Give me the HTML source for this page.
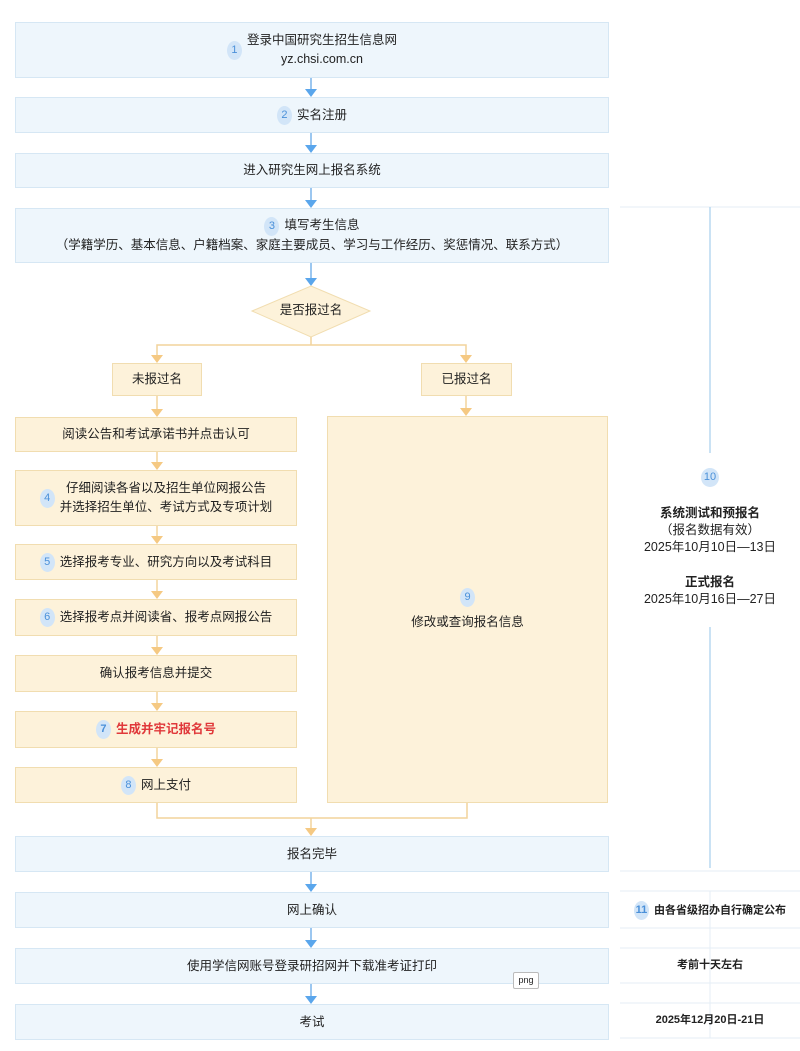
<!DOCTYPE html>
<html><head><meta charset="utf-8"><style>
body{margin:0;width:800px;height:1051px;background:#fff;position:relative;overflow:hidden;font-family:"Liberation Sans","Noto Sans CJK SC",sans-serif;color:#222;}
.b{position:absolute;box-sizing:border-box;display:flex;align-items:center;justify-content:center;flex-direction:column;text-align:center;font-size:12.5px;line-height:19px;}
.bl{background:#eef6fc;border:1px solid #d6e7f4;}
.or{background:#fdf2da;border:1px solid #f1ddb0;}
.n{display:inline-block;width:15px;height:19px;border-radius:50%;background:#d2e5f8;color:#4a90d9;font-size:11px;line-height:19px;text-align:center;margin-right:5px;vertical-align:middle;}
.t{position:absolute;text-align:center;font-size:12.5px;line-height:17px;}
</style></head><body>
<svg width="800" height="1051" style="position:absolute;left:0;top:0">
<g stroke="#7ab4ea" stroke-width="1.5">
<line x1="311" y1="78" x2="311" y2="92"/><line x1="311" y1="133" x2="311" y2="148"/><line x1="311" y1="188" x2="311" y2="203"/><line x1="311" y1="263" x2="311" y2="280"/>
<line x1="311" y1="872" x2="311" y2="887"/><line x1="311" y1="928" x2="311" y2="943"/><line x1="311" y1="984" x2="311" y2="999"/>
</g>
<g fill="#5aa6ec">
<path d="M305,89 L317,89 L311,97z"/><path d="M305,145 L317,145 L311,153z"/><path d="M305,200 L317,200 L311,208z"/><path d="M305,278 L317,278 L311,286z"/>
<path d="M305,884 L317,884 L311,892z"/><path d="M305,940 L317,940 L311,948z"/><path d="M305,996 L317,996 L311,1004z"/>
</g>
<polygon points="311,286 370,311 311,337 252,311" fill="#fdf2da" stroke="#f1ddb0"/>
<g stroke="#f2d49c" stroke-width="1.5" fill="none">
<path d="M311,337 V345 M157,356 V345 H466 V356"/>
<line x1="157" y1="396" x2="157" y2="410"/><line x1="466" y1="396" x2="466" y2="410"/>
<line x1="157" y1="452" x2="157" y2="464"/><line x1="157" y1="526" x2="157" y2="538"/><line x1="157" y1="580" x2="157" y2="593"/><line x1="157" y1="636" x2="157" y2="649"/><line x1="157" y1="692" x2="157" y2="705"/><line x1="157" y1="748" x2="157" y2="761"/>
<path d="M157,803 V818 H467 V803 M311,818 V830"/>
</g>
<g fill="#f5c983">
<path d="M151,355 L163,355 L157,363z"/><path d="M460,355 L472,355 L466,363z"/>
<path d="M151,409 L163,409 L157,417z"/><path d="M460,408 L472,408 L466,416z"/>
<path d="M151,462 L163,462 L157,470z"/><path d="M151,536 L163,536 L157,544z"/><path d="M151,591 L163,591 L157,599z"/><path d="M151,647 L163,647 L157,655z"/><path d="M151,703 L163,703 L157,711z"/><path d="M151,759 L163,759 L157,767z"/>
<path d="M305,828 L317,828 L311,836z"/>
</g>
<g stroke="#e4eef6" stroke-width="1">
<line x1="620" y1="207" x2="800" y2="207"/>
<line x1="620" y1="871" x2="800" y2="871"/><line x1="620" y1="891" x2="800" y2="891"/><line x1="620" y1="928" x2="800" y2="928"/><line x1="620" y1="948" x2="800" y2="948"/><line x1="620" y1="983" x2="800" y2="983"/><line x1="620" y1="1003" x2="800" y2="1003"/><line x1="620" y1="1038" x2="800" y2="1038"/>
<line x1="710" y1="891" x2="710" y2="1038"/>
</g>
<g stroke="#b9d8f0" stroke-width="1.5"><line x1="710" y1="207" x2="710" y2="453"/><line x1="710" y1="627" x2="710" y2="868"/></g>
</svg>
<div class="b bl" style="left:15px;top:22px;width:594px;height:56px;flex-direction:row"><span class="n">1</span><span>登录中国研究生招生信息网<br>yz.chsi.com.cn</span></div>
<div class="b bl" style="left:15px;top:97px;width:594px;height:36px;display:block;line-height:34px"><span class="n">2</span>实名注册</div>
<div class="b bl" style="left:15px;top:153px;width:594px;height:35px">进入研究生网上报名系统</div>
<div class="b bl" style="left:15px;top:208px;width:594px;height:55px"><div><span class="n">3</span>填写考生信息</div><div>（学籍学历、基本信息、户籍档案、家庭主要成员、学习与工作经历、奖惩情况、联系方式）</div></div>
<div class="t" style="left:252px;top:302px;width:118px">是否报过名</div>
<div class="b or" style="left:112px;top:363px;width:90px;height:33px">未报过名</div>
<div class="b or" style="left:421px;top:363px;width:91px;height:33px">已报过名</div>
<div class="b or" style="left:15px;top:417px;width:282px;height:35px">阅读公告和考试承诺书并点击认可</div>
<div class="b or" style="left:15px;top:470px;width:282px;height:56px;flex-direction:row"><span class="n">4</span><span>仔细阅读各省以及招生单位网报公告<br>并选择招生单位、考试方式及专项计划</span></div>
<div class="b or" style="left:15px;top:544px;width:282px;height:36px;display:block;line-height:34px"><span class="n">5</span>选择报考专业、研究方向以及考试科目</div>
<div class="b or" style="left:15px;top:599px;width:282px;height:37px;display:block;line-height:35px"><span class="n">6</span>选择报考点并阅读省、报考点网报公告</div>
<div class="b or" style="left:15px;top:655px;width:282px;height:37px">确认报考信息并提交</div>
<div class="b or" style="left:15px;top:711px;width:282px;height:37px;display:block;line-height:35px;color:#e0383a;font-weight:bold"><span class="n">7</span>生成并牢记报名号</div>
<div class="b or" style="left:15px;top:767px;width:282px;height:36px;display:block;line-height:34px"><span class="n">8</span>网上支付</div>
<div class="b or" style="left:327px;top:416px;width:281px;height:387px"><span class="n" style="margin:0 0 6px 0">9</span>修改或查询报名信息</div>
<div class="b bl" style="left:15px;top:836px;width:594px;height:36px">报名完毕</div>
<div class="b bl" style="left:15px;top:892px;width:594px;height:36px">网上确认</div>
<div class="b bl" style="left:15px;top:948px;width:594px;height:36px">使用学信网账号登录研招网并下载准考证打印</div>
<div style="position:absolute;left:513px;top:972px;width:24px;height:15px;border:1px solid #bbb;border-radius:2px;background:#fff;font-size:9px;line-height:14px;text-align:center">png</div>
<div class="b bl" style="left:15px;top:1004px;width:594px;height:36px">考试</div>
<div class="t" style="left:620px;top:468px;width:180px"><span class="n" style="margin:0;width:18px">10</span></div>
<div class="t" style="left:620px;top:505px;width:180px;line-height:17px"><b>系统测试和预报名</b><br>（报名数据有效）<br>2025年10月10日—13日</div>
<div class="t" style="left:620px;top:574px;width:180px;line-height:17px"><b>正式报名</b><br>2025年10月16日—27日</div>
<div class="t" style="left:620px;top:901px;width:180px;font-size:11px;font-weight:bold"><span class="n">11</span>由各省级招办自行确定公布</div>
<div class="t" style="left:620px;top:957px;width:180px;font-size:11px;font-weight:bold">考前十天左右</div>
<div class="t" style="left:620px;top:1012px;width:180px;font-size:11px;font-weight:bold">2025年12月20日-21日</div>
</body></html>
